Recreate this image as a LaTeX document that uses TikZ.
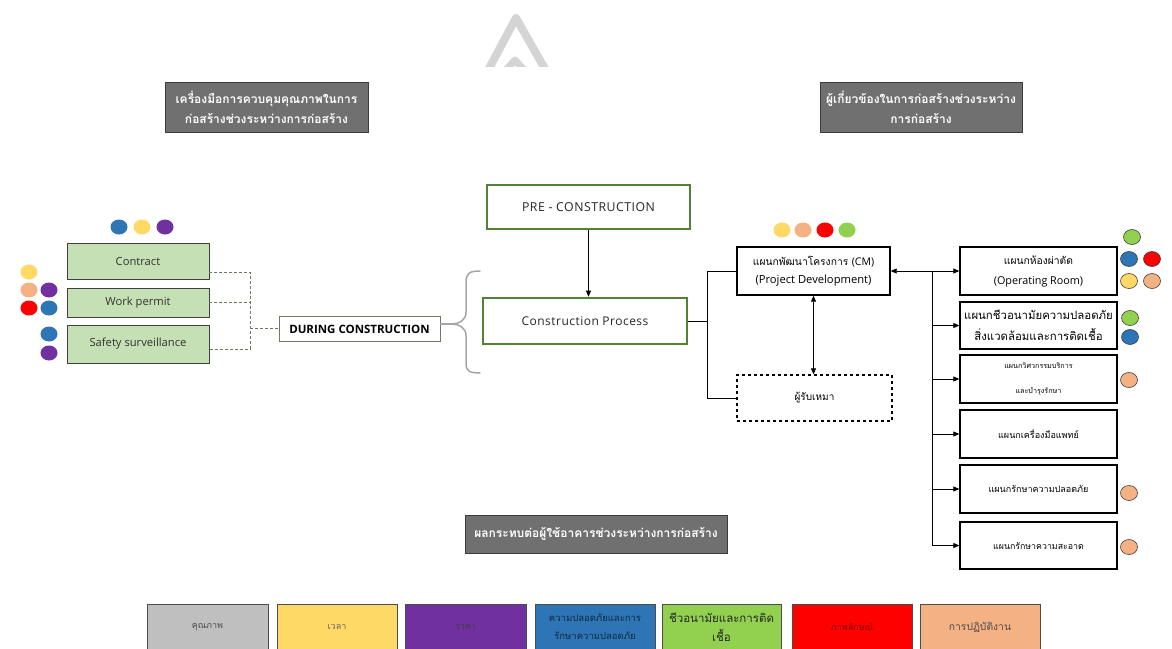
\documentclass[tikz,border=0pt]{standalone}
\usepackage{fontspec}
\setmainfont[Script=Thai]{Loma}
\newfontfamily\latin{Open Sans}
\newfontfamily\latinwide{Open Sans}[LetterSpace=4]
\usetikzlibrary{arrows.meta,shapes.geometric}

\definecolor{hdrfill}{RGB}{112,112,112}
\definecolor{hdrline}{RGB}{60,60,60}
\definecolor{lgreen}{RGB}{197,224,180}
\definecolor{dgreen}{RGB}{84,130,53}
\definecolor{cblue}{RGB}{46,117,182}
\definecolor{cyellow}{RGB}{255,217,102}
\definecolor{cpurple}{RGB}{112,48,160}
\definecolor{cpeach}{RGB}{244,177,131}
\definecolor{cred}{RGB}{255,0,0}
\definecolor{cgreen}{RGB}{146,208,80}
\definecolor{cgray}{RGB}{191,191,191}
\definecolor{wmark}{RGB}{212,212,212}
\definecolor{dashcol}{RGB}{110,120,100}
\definecolor{bracecol}{RGB}{166,166,166}

\newcommand{\fs}[2]{\fontsize{#1}{#2}\selectfont}

\begin{document}
\begin{tikzpicture}[x=1pt,y=-1pt,
  tip/.style={-{Triangle[length=6pt,width=5pt]}},
  twotip/.style={{Triangle[length=6pt,width=5pt]}-{Triangle[length=6pt,width=5pt]}},
  conn/.style={draw=black, line width=0.8pt},
  dashline/.style={draw=dashcol, line width=0.7pt, densely dashed},
  hdr/.style={draw=hdrline, line width=1pt, fill=hdrfill, text=white,
    font=\bfseries\fs{12}{20}, align=center, inner sep=0pt},
  gbox/.style={draw=black!75, line width=0.9pt, fill=lgreen,
    font=\latin\fs{11.2}{12}, text=black!80, inner sep=0pt},
  phase/.style={draw=dgreen, line width=2.6pt, fill=white,
    text=black!85, inner sep=0pt},
  dept/.style={draw=black, line width=1.4pt, fill=white, align=center, inner sep=0pt},
  legend/.style={draw=black!70, line width=0.8pt, align=center, inner sep=0pt,
    minimum height=46pt},
  dotc/.style={ellipse, minimum width=17pt, minimum height=15pt, inner sep=0pt},
  dotl/.style={dotc, draw=black!75, line width=0.6pt}
]
\clip (0,0) rectangle (1172,648);
\fill[white] (0,0) rectangle (1172,648);

% faint logo mark at the top
\begin{scope}
  \clip (440,0) rectangle (600,66);
  \draw[wmark, line width=8pt, line join=round, line cap=round]
    (485,76) -- (516,18) -- (549,76);
  \draw[wmark, line width=7pt, line join=round, line cap=round]
    (506,70) -- (515,60) -- (524,70);
\end{scope}

% section headers
\node[hdr, minimum width=203pt, minimum height=50pt] (hL) at (266.5,107)
  {เครื่องมือการควบคุมคุณภาพในการ\\ก่อสร้างช่วงระหว่างการก่อสร้าง};
\node[hdr, minimum width=202pt, minimum height=50pt] (hR) at (921,107)
  {ผู้เกี่ยวข้องในการก่อสร้างช่วงระหว่าง\\การก่อสร้าง};
\node[hdr, minimum width=262pt, minimum height=38pt] (hB) at (596,534)
  {ผลกระทบต่อผู้ใช้อาคารช่วงระหว่างการก่อสร้าง};

% control tools
\node[gbox, minimum width=142pt, minimum height=36pt] (contract) at (138,261) {Contract};
\node[gbox, minimum width=142pt, minimum height=29pt] (permit) at (138,302.5) {Work permit};
\node[gbox, minimum width=142pt, minimum height=38pt] (safety) at (138,344) {Safety surveillance};
\node[draw=dashcol, line width=0.8pt, fill=white, minimum width=161pt, minimum height=25pt,
  inner sep=0pt, font=\latin\bfseries\fs{11.5}{12}] (during) at (359.5,329) {DURING CONSTRUCTION};

\coordinate (jt) at (250,272);
\coordinate (jm) at (250,328);
\coordinate (jb) at (250,349);
\draw[dashline] (contract.east |- jt) -- (jt) -- (jb) -- (safety.east |- jb);
\draw[dashline] (permit.east) -- (permit.east -| jt);
\draw[dashline] (jm) -- (during.west |- jm);

% brace gathering the construction phase
\coordinate (btip) at (450,324);
\draw[bracecol, line width=1.4pt] (during.east |- btip) -- (btip);
\draw[bracecol, line width=1.5pt, line cap=round]
  (480,271) .. controls (470,271) and (466,273) .. (466,282) -- (466,312)
  .. controls (466,320) and (460,324) .. (btip)
  .. controls (460,324) and (466,328) .. (466,336) -- (466,364)
  .. controls (466,371) and (470,373) .. (480,373);

% phases
\node[phase, minimum width=203pt, minimum height=44pt, font=\latinwide\fs{12.3}{12}] (pre) at (588.5,207) {PRE - CONSTRUCTION};
\node[phase, minimum width=204pt, minimum height=46pt, font=\latinwide\fs{12}{12}] (cp) at (585,321) {Construction Process};
\draw[conn, tip] (pre.south) -- (pre.south |- cp.north);

% stakeholders
\node[dept, minimum width=153pt, minimum height=48pt, font=\fs{10.3}{18}] (cm) at (813.5,271)
  {แผนกพัฒนาโครงการ {\latin\fs{10.5}{18}(CM)}\\{\latin\fs{11.2}{18}(Project Development)}};
\node[dept, dashed, minimum width=155pt, minimum height=46pt, font=\fs{10}{12}] (con) at (814.5,398)
  {ผู้รับเหมา};

\coordinate (sx) at (707,0);
\draw[conn] (cp.east) -- (cp.east -| sx);
\draw[conn] (cm.west) -- (cm.west -| sx) -- (con.west -| sx) -- (con.west);
\draw[conn, twotip] (cm.south) -- (cm.south |- con.north);

% departments
\node[dept, minimum width=157pt, minimum height=48pt, font=\fs{10.3}{20}] (b1) at (1038.5,271)
  {แผนกห้องผ่าตัด\\{\latin\fs{10.8}{20}(Operating Room)}};
\node[dept, minimum width=157pt, minimum height=47pt, font=\fs{11.4}{21}] (b2) at (1038.5,325.5)
  {แผนกชีวอนามัยความปลอดภัย\\สิ่งแวดล้อมและการติดเชื้อ};
\node[dept, minimum width=157pt, minimum height=48pt, font=\fs{7.2}{25}] (b3) at (1038.5,379)
  {แผนกวิศวกรรมบริการ\\และบำรุงรักษา};
\node[dept, minimum width=157pt, minimum height=48pt, font=\fs{9}{12}] (b4) at (1038.5,434)
  {แผนกเครื่องมือแพทย์};
\node[dept, minimum width=157pt, minimum height=48pt, font=\fs{9}{12}] (b5) at (1038.5,489)
  {แผนกรักษาความปลอดภัย};
\node[dept, minimum width=157pt, minimum height=47pt, font=\fs{8.8}{12}] (b6) at (1038.5,545.5)
  {แผนกรักษาความสะอาด};

\coordinate (rx) at (932,0);
\draw[conn, twotip] (cm.east) -- (b1.west);
\draw[conn] (cm.east -| rx) -- (b6.west -| rx);
\foreach \b in {b2,b3,b4,b5,b6}
  \draw[conn, tip] (\b.west -| rx) -- (\b.west);

% impact markers
\node[dotc, fill=cblue]   (t1) at (119,227) {};
\node[dotc, fill=cyellow] (t2) at (142,227) {};
\node[dotc, fill=cpurple] (t3) at (165,227) {};
\node[dotc, fill=cyellow] (l1) at (29,272) {};
\node[dotc, fill=cpeach]  (l2) at (29,290) {};
\node[dotc, fill=cpurple] (l3) at (49,290) {};
\node[dotc, fill=cred]    (l4) at (29,308) {};
\node[dotc, fill=cblue]   (l5) at (49,308) {};
\node[dotc, fill=cblue]   (l6) at (49,334) {};
\node[dotc, fill=cpurple] (l7) at (49,353) {};
\node[dotc, fill=cyellow] (m1) at (782,230) {};
\node[dotc, fill=cpeach]  (m2) at (803,230) {};
\node[dotc, fill=cred]    (m3) at (825,230) {};
\node[dotc, fill=cgreen]  (m4) at (847,230) {};
\node[dotl, fill=cgreen]  (r1) at (1132,237) {};
\node[dotl, fill=cblue]   (r2) at (1129,259) {};
\node[dotl, fill=cred]    (r3) at (1152,259) {};
\node[dotl, fill=cyellow] (r4) at (1129,281) {};
\node[dotl, fill=cpeach]  (r5) at (1152,281) {};
\node[dotl, fill=cgreen]  (r6) at (1130,318) {};
\node[dotl, fill=cblue]   (r7) at (1130,337) {};
\node[dotl, fill=cpeach]  (r8) at (1129,380) {};
\node[dotl, fill=cpeach]  (r9) at (1129,493) {};
\node[dotl, fill=cpeach]  (r10) at (1129,547) {};

% legend
\node[legend, fill=cgray, minimum width=121pt, text=black!70, font=\fs{9}{12}] (k1) at (207.5,627) {คุณภาพ};
\node[legend, fill=cyellow, minimum width=120pt, text=black!60, font=\fs{9}{12}] (k2) at (337,627) {เวลา};
\node[legend, fill=cpurple, minimum width=121pt, text=black!75, font=\fs{9}{12}] (k3) at (465.5,627) {ราคา};
\node[legend, fill=cblue, minimum width=120pt, text=cblue!35!black, font=\fs{9.5}{18}] (k4) at (595,627)
  {ความปลอดภัยและการ\\รักษาความปลอดภัย};
\node[legend, fill=cgreen, minimum width=119pt, text=black!85, font=\fs{11.5}{19}] (k5) at (721.5,627)
  {ชีวอนามัยและการติด\\เชื้อ};
\node[legend, fill=cred, minimum width=120pt, text=red!50!black, font=\fs{9}{12}] (k6) at (852,627) {ภาพลักษณ์};
\node[legend, fill=cpeach, minimum width=120pt, text=black!70, font=\fs{10.3}{12}] (k7) at (980,627) {การปฏิบัติงาน};
\end{tikzpicture}
\end{document}
